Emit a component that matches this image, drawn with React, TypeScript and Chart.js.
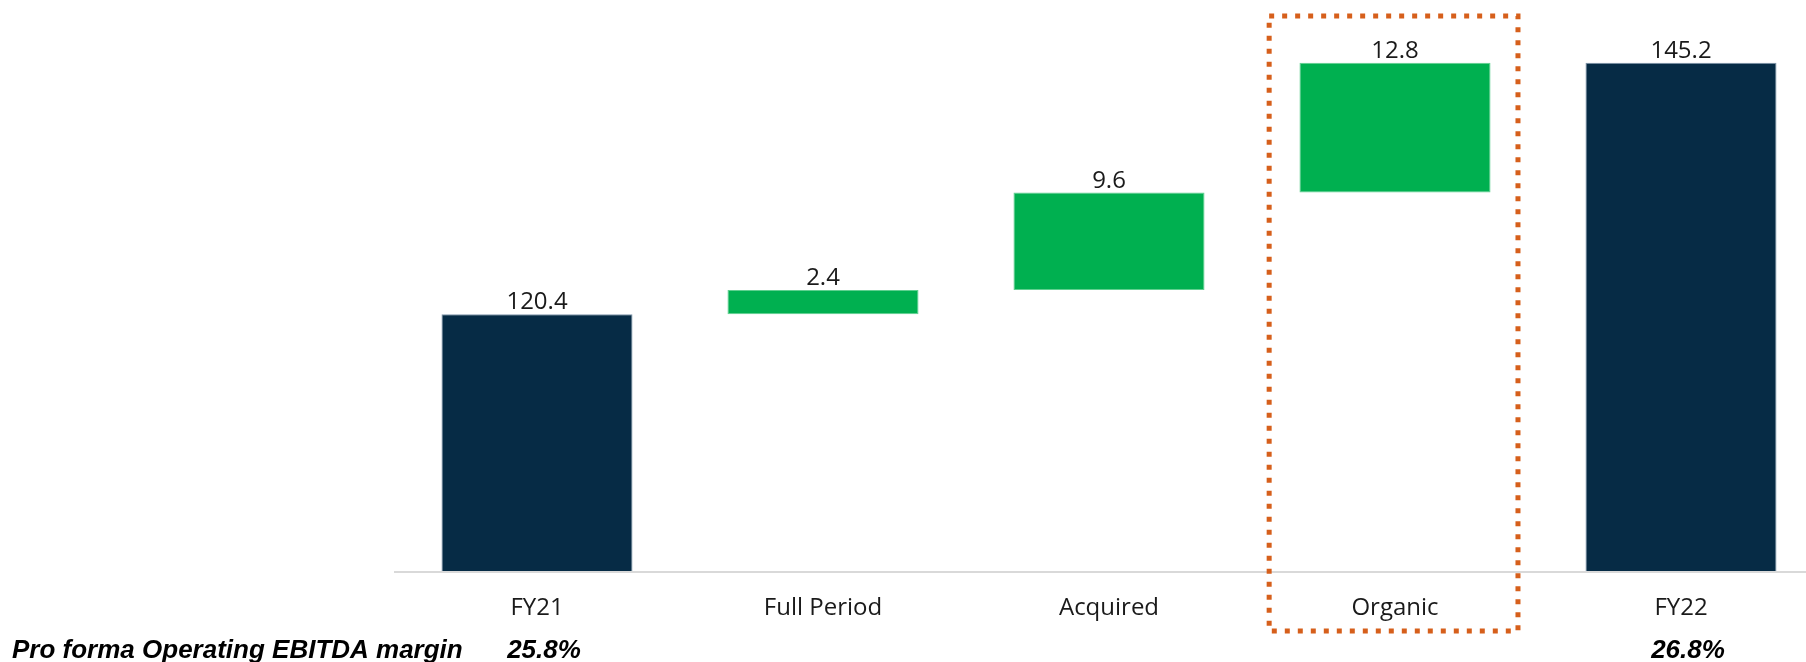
import React, { useEffect, useRef } from "react";
import { Chart, registerables } from "chart.js";

Chart.register(...registerables);

const categories = ["FY21", "Full Period", "Acquired", "Organic", "FY22"];
const values = [120.4, 2.4, 9.6, 12.8, 145.2];
const isTotal = [true, false, false, false, true];
const margins = ["25.8%", "", "", "", "26.8%"];
const marginTitle = "Pro forma Operating EBITDA margin";
const highlightIndex = 3;

const NAVY = "#062B45";
const GREEN = "#00B050";
const ORANGE = "#D65F1B";

function buildRanges(): [number, number][] {
  let run = 0;
  return values.map((v, i) => {
    if (isTotal[i]) {
      run = v;
      return [0, v];
    }
    const start = run;
    run = run + v;
    return [start, run];
  });
}

export default function App() {
  const ref = useRef<HTMLCanvasElement | null>(null);

  useEffect(() => {
    document.body.style.margin = "0";
    const canvas = ref.current;
    if (!canvas) return;
    const ranges = buildRanges();

    const overlay = {
      id: "overlay",
      afterDatasetsDraw(chart: any) {
        const ctx = chart.ctx;
        const x = chart.scales.x;
        const y = chart.scales.y;
        ctx.save();
        // value labels
        ctx.font = "24px 'Open Sans'";
        ctx.fillStyle = "#1a1a1a";
        ctx.textAlign = "center";
        ctx.textBaseline = "alphabetic";
        ranges.forEach((r, i) => {
          const top = y.getPixelForValue(Math.max(r[0], r[1]));
          ctx.fillText(String(values[i]), x.getPixelForValue(i), top - 5);
        });
        // axis line over bars
        ctx.strokeStyle = "#d9d9d9";
        ctx.lineWidth = 2;
        ctx.beginPath();
        ctx.moveTo(chart.chartArea.left, chart.chartArea.bottom);
        ctx.lineTo(chart.chartArea.right, chart.chartArea.bottom);
        ctx.stroke();
        // dotted highlight box
        const spacing = x.getPixelForValue(1) - x.getPixelForValue(0);
        const cx = x.getPixelForValue(highlightIndex);
        const left = cx - spacing * 0.44;
        const right = cx + spacing * 0.43;
        const topY = chart.chartArea.top + 2;
        const bottomY = chart.chartArea.bottom + 59;
        ctx.strokeStyle = ORANGE;
        ctx.lineWidth = 5;
        ctx.setLineDash([5, 8]);
        ctx.strokeRect(left, topY, right - left, bottomY - topY);
        ctx.setLineDash([]);
        // margin row
        ctx.font = "italic bold 26px 'Liberation Sans', Arial, sans-serif";
        ctx.fillStyle = "#000";
        ctx.textAlign = "left";
        ctx.fillText(marginTitle, 12, 658);
        ctx.textAlign = "center";
        margins.forEach((m, i) => {
          if (m) ctx.fillText(m, x.getPixelForValue(i) + 7, 658);
        });
        ctx.restore();
      },
    };

    const chart = new Chart(canvas, {
      type: "bar",
      data: {
        labels: categories,
        datasets: [
          {
            data: ranges as any,
            backgroundColor: isTotal.map((t) => (t ? NAVY : GREEN)),
            borderColor: isTotal.map((t) => (t ? "#7f96aa" : "#5fd08f")),
            borderWidth: 1,
            borderSkipped: false,
            categoryPercentage: 1,
            barPercentage: 0.668,
          },
        ],
      },
      options: {
        responsive: false,
        animation: false,
        maintainAspectRatio: false,
        layout: { padding: { left: 394, right: 6, top: 14, bottom: 0 } },
        plugins: { legend: { display: false }, tooltip: { enabled: false } },
        scales: {
          x: {
            grid: { display: false, drawTicks: false },
            border: { display: false },
            ticks: {
              color: "#1a1a1a",
              font: { family: "'Open Sans'", size: 24 },
              padding: 22,
            },
            afterFit: (s: any) => {
              s.height = 90;
            },
          },
          y: {
            display: false,
            min: 95,
            max: 150,
          },
        },
      },
      plugins: [overlay],
    });
    return () => chart.destroy();
  }, []);

  return (
    <div style={{ position: "relative", width: 1806, height: 662, overflow: "hidden", background: "#fff" }}>
      <canvas ref={ref} width={1830} height={662} style={{ position: "absolute", left: 0, top: 0, width: 1830, height: 662 }} />
    </div>
  );
}
